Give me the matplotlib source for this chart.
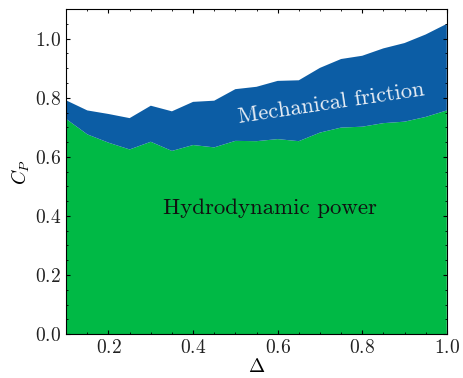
import numpy as np
import matplotlib
matplotlib.use("Agg")
import matplotlib.pyplot as plt
from matplotlib.ticker import MultipleLocator

# data
delta = [0.10, 0.15, 0.20, 0.25, 0.30, 0.35, 0.40, 0.45, 0.50, 0.55,
         0.60, 0.65, 0.70, 0.75, 0.80, 0.85, 0.90, 0.95, 1.00]
cp_hydro = [0.728, 0.676, 0.648, 0.625, 0.651, 0.620, 0.640, 0.632, 0.654, 0.653,
            0.660, 0.653, 0.682, 0.699, 0.702, 0.714, 0.719, 0.735, 0.757]
cp_total = [0.791, 0.757, 0.745, 0.731, 0.773, 0.754, 0.786, 0.790, 0.829, 0.837,
            0.857, 0.859, 0.901, 0.931, 0.942, 0.967, 0.985, 1.014, 1.050]
cp_friction = list(np.array(cp_total) - np.array(cp_hydro))

plt.rcParams['font.family'] = 'serif'
plt.rcParams['font.serif'] = ['cmr10', 'DejaVu Serif']
plt.rcParams['mathtext.fontset'] = 'cm'
plt.rcParams['axes.formatter.use_mathtext'] = True
plt.rcParams['font.size'] = 14

fig, ax = plt.subplots(figsize=(4.63, 3.78), dpi=100)
fig.subplots_adjust(left=0.143, right=0.965, top=0.976, bottom=0.116)

ax.stackplot(delta, cp_hydro, cp_friction, colors=['#00B945', '#0C5DA5'], linewidth=0)

ax.text(0.582, 0.427, 'Hydrodynamic power', ha='center', va='center',
        fontsize=16.5, color='#111111')
ax.text(0.726, 0.78, 'Mechanical friction', ha='center', va='center',
        fontsize=16.2, color='#e8eef5', rotation=8.5)

ax.set_xlim(0.1, 1.0)
ax.set_ylim(0, 1.1)
ax.set_xlabel(r'$\Delta$', labelpad=1)
ax.set_ylabel(r'$C_P$', labelpad=2)
ax.xaxis.set_major_locator(MultipleLocator(0.2))
ax.xaxis.set_minor_locator(MultipleLocator(0.05))
ax.yaxis.set_major_locator(MultipleLocator(0.2))
ax.yaxis.set_minor_locator(MultipleLocator(0.05))
ax.tick_params(which='both', direction='in', top=True, right=True, labelcolor='#222222')
ax.tick_params(which='major', length=3, width=0.8)
ax.tick_params(which='minor', length=1.5, width=0.6)
for s in ax.spines.values():
    s.set_linewidth(0.8)

fig.savefig('out.png', dpi=100)
